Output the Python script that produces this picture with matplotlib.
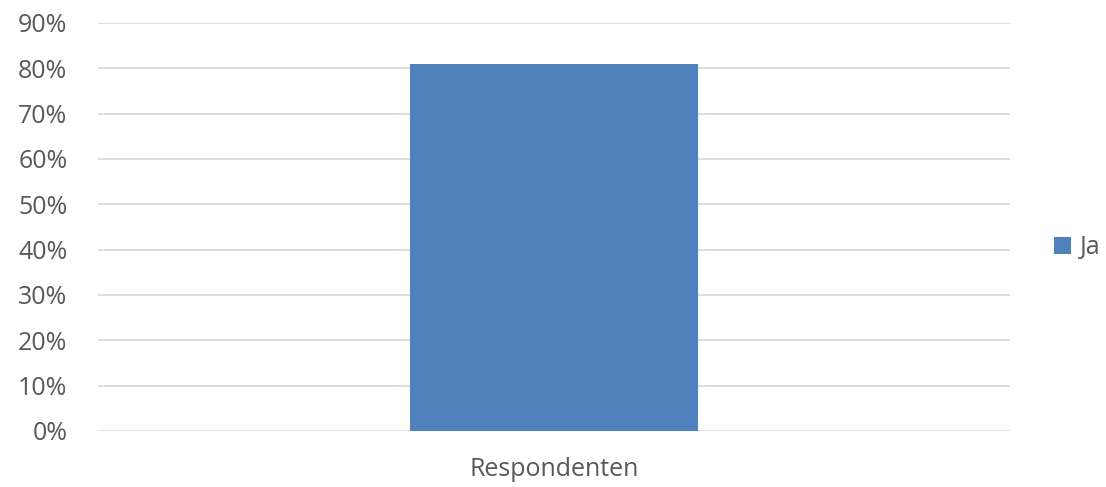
import matplotlib
matplotlib.use("Agg")
import matplotlib.pyplot as plt
from matplotlib.ticker import PercentFormatter

categories = ["Respondenten"]
values = [81.0]
series_name = "Ja"
yticks = list(range(0, 91, 10))

plt.rcParams['font.family'] = ['Open Sans', 'DejaVu Sans']
text_color = '#595959'

fig = plt.figure(figsize=(11.06, 4.87), dpi=100)
ax = fig.add_axes([0.0886, 0.115, 0.8246, 0.838])

ax.bar(range(len(categories)), values, width=0.315, color='#4f81bd', label=series_name, zorder=3)

ax.set_xlim(-0.5, 0.5)
ax.set_ylim(0, 90)
ax.set_yticks(yticks)
ax.yaxis.set_major_formatter(PercentFormatter(decimals=0))
ax.set_xticks(range(len(categories)))
ax.set_xticklabels(categories)

ax.grid(axis='y', color='#d9d9d9', linewidth=1.2, zorder=0)
for s in ax.spines.values():
    s.set_visible(False)
ax.tick_params(axis='both', length=0, labelsize=18, colors=text_color)
ax.tick_params(axis='x', pad=19)
ax.tick_params(axis='y', pad=22)

leg = ax.legend(loc='center left', bbox_to_anchor=(1.0316, 0.4485), frameon=False,
                fontsize=18, handlelength=0.7, handleheight=0.7, handletextpad=0.35,
                borderaxespad=0.2)
for t in leg.get_texts():
    t.set_color(text_color)

fig.savefig('out.png', dpi=100)
